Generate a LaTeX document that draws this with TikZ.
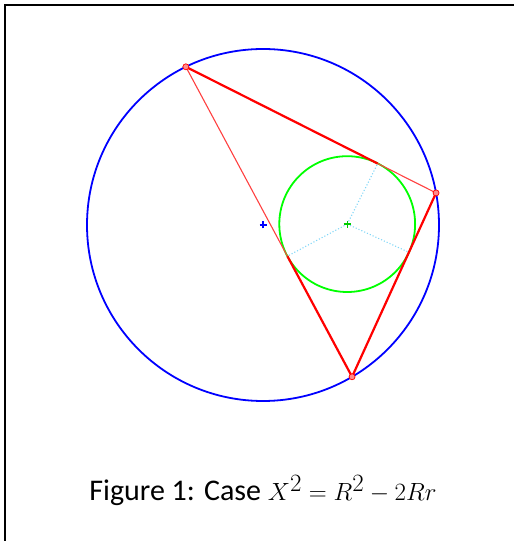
\documentclass[tikz,border=0pt]{standalone}
\usepackage{fontspec}
\setmainfont{Carlito}
\usetikzlibrary{calc}

\tikzset{
    side/.style={red, line width=2.2pt},
    thinside/.style={red!75, line width=1.1pt},
    touchline/.style={cyan!50, dotted, line width=1.1pt},
    vertexdot/.style={red, fill=red!45, line width=0.7pt},
}

\begin{document}
\begin{tikzpicture}[x=1pt,y=1pt]
    % Keep the page at the size of the figure
    \useasboundingbox (0,0) rectangle (514,541);

    % Draw the frame (only its top and left edges show)
    \coordinate (FL) at (5,0);
    \coordinate (FC) at (5,536);
    \coordinate (FR) at (514,536);
    \draw[line width=2pt] (FL) -- (FC) -- (FR);

    % Define the circumcentre and the vertices
    \coordinate (O) at (263,316);
    \coordinate (A) at ($(O)+(116:176)$);
    \coordinate (B) at ($(O)+(10.5:176)$);
    \coordinate (C) at ($(O)+(-59.6:176)$);

    % Define the incentre and the touching points
    \coordinate (I) at (347.2,316.9);
    \coordinate (Tab) at ($(A)!(I)!(B)$);
    \coordinate (Tbc) at ($(B)!(I)!(C)$);
    \coordinate (Tca) at ($(C)!(I)!(A)$);

    % Draw the circumcircle and the incircle
    \draw[blue, line width=1.8pt] (O) circle (176);
    \draw[green, line width=1.8pt] (I) circle (67.9);

    % Draw the radii to the touching points
    \draw[touchline] (I) -- (Tab);
    \draw[touchline] (I) -- (Tbc);
    \draw[touchline] (I) -- (Tca);

    % Draw the sides of the triangle
    \draw[side] (A) -- (Tab);
    \draw[thinside] (Tab) -- (B);
    \draw[side] (B) -- (C);
    \draw[side] (Tca) -- (C);
    \draw[thinside] (A) -- (Tca);

    % Mark the two centres
    \draw[blue, line width=1.3pt] (O) ++(-3.5,0) -- ++(7,0) (O) ++(0,-3.5) -- ++(0,7);
    \draw[green!80!black, line width=1.3pt] (I) ++(-3.5,0) -- ++(7,0) (I) ++(0,-3.5) -- ++(0,7);

    % Add the vertices
    \filldraw[vertexdot] (A) circle (3);
    \filldraw[vertexdot] (B) circle (3);
    \filldraw[vertexdot] (C) circle (3);

    % Caption
    \node[anchor=base, font=\fontsize{30}{36}\selectfont] (caption) at (263,40)
        {Figure 1: Case {\fontsize{35}{42}\selectfont$X^2 = R^2 - 2Rr$}};
\end{tikzpicture}
\end{document}
